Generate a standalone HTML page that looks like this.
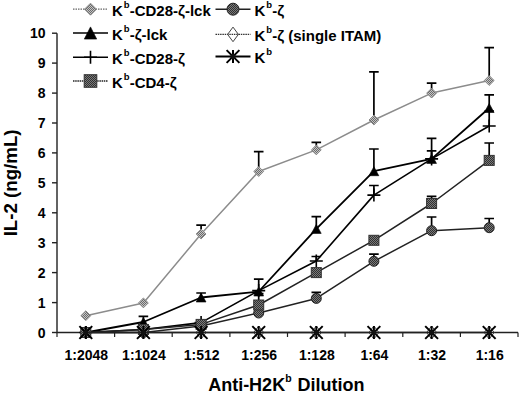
<!DOCTYPE html>
<html><head><meta charset="utf-8"><style>
html,body{margin:0;padding:0;background:#fff;}
svg{display:block;}
text{font-family:"Liberation Sans", sans-serif;fill:#000;}
</style></head><body>
<svg width="520" height="393" viewBox="0 0 520 393">

<defs>
<pattern id="pg" width="2" height="2" patternUnits="userSpaceOnUse">
<rect width="2" height="2" fill="#c4c4c4"/><rect width="1" height="1" fill="#6a6a6a"/><rect x="1" y="1" width="1" height="1" fill="#6a6a6a"/>
</pattern>
<pattern id="pd" width="2" height="2" patternUnits="userSpaceOnUse">
<rect width="2" height="2" fill="#7a7a7a"/><rect width="1" height="1" fill="#303030"/><rect x="1" y="1" width="1" height="1" fill="#303030"/>
</pattern>
</defs>

<rect width="520" height="393" fill="#fff"/>
<path d="M57.0 33.2V332.5H518.0" stroke="#222" stroke-width="1.4" fill="none"/><path d="M52 332.5H57.0" stroke="#222" stroke-width="1.4"/><text x="45.5" y="337.7" text-anchor="end" font-size="14" font-weight="bold">0</text><path d="M52 302.6H57.0" stroke="#222" stroke-width="1.4"/><text x="45.5" y="307.8" text-anchor="end" font-size="14" font-weight="bold">1</text><path d="M52 272.6H57.0" stroke="#222" stroke-width="1.4"/><text x="45.5" y="277.8" text-anchor="end" font-size="14" font-weight="bold">2</text><path d="M52 242.7H57.0" stroke="#222" stroke-width="1.4"/><text x="45.5" y="247.9" text-anchor="end" font-size="14" font-weight="bold">3</text><path d="M52 212.8H57.0" stroke="#222" stroke-width="1.4"/><text x="45.5" y="218.0" text-anchor="end" font-size="14" font-weight="bold">4</text><path d="M52 182.8H57.0" stroke="#222" stroke-width="1.4"/><text x="45.5" y="188.0" text-anchor="end" font-size="14" font-weight="bold">5</text><path d="M52 152.9H57.0" stroke="#222" stroke-width="1.4"/><text x="45.5" y="158.1" text-anchor="end" font-size="14" font-weight="bold">6</text><path d="M52 123.0H57.0" stroke="#222" stroke-width="1.4"/><text x="45.5" y="128.2" text-anchor="end" font-size="14" font-weight="bold">7</text><path d="M52 93.1H57.0" stroke="#222" stroke-width="1.4"/><text x="45.5" y="98.3" text-anchor="end" font-size="14" font-weight="bold">8</text><path d="M52 63.1H57.0" stroke="#222" stroke-width="1.4"/><text x="45.5" y="68.3" text-anchor="end" font-size="14" font-weight="bold">9</text><path d="M52 33.2H57.0" stroke="#222" stroke-width="1.4"/><text x="45.5" y="38.4" text-anchor="end" font-size="14" font-weight="bold">10</text><path d="M57.0 332.5V337.0" stroke="#222" stroke-width="1.2"/><path d="M114.6 332.5V337.0" stroke="#222" stroke-width="1.2"/><path d="M172.2 332.5V337.0" stroke="#222" stroke-width="1.2"/><path d="M229.9 332.5V337.0" stroke="#222" stroke-width="1.2"/><path d="M287.5 332.5V337.0" stroke="#222" stroke-width="1.2"/><path d="M345.1 332.5V337.0" stroke="#222" stroke-width="1.2"/><path d="M402.8 332.5V337.0" stroke="#222" stroke-width="1.2"/><path d="M460.4 332.5V337.0" stroke="#222" stroke-width="1.2"/><path d="M518.0 332.5V337.0" stroke="#222" stroke-width="1.2"/><text x="86.3" y="359.6" text-anchor="middle" font-size="14" font-weight="bold">1:2048</text><text x="143.9" y="359.6" text-anchor="middle" font-size="14" font-weight="bold">1:1024</text><text x="201.6" y="359.6" text-anchor="middle" font-size="14" font-weight="bold">1:512</text><text x="259.2" y="359.6" text-anchor="middle" font-size="14" font-weight="bold">1:256</text><text x="316.8" y="359.6" text-anchor="middle" font-size="14" font-weight="bold">1:128</text><text x="374.4" y="359.6" text-anchor="middle" font-size="14" font-weight="bold">1:64</text><text x="432.1" y="359.6" text-anchor="middle" font-size="14" font-weight="bold">1:32</text><text x="489.7" y="359.6" text-anchor="middle" font-size="14" font-weight="bold">1:16</text><text transform="translate(17.2 182.9) rotate(-90)" text-anchor="middle" font-size="18.7" font-weight="bold">IL-2 (ng/mL)</text><text x="286.3" y="391.3" text-anchor="middle" font-size="18" font-weight="bold">Anti-H2K<tspan font-size="10.5" dy="-9.8">b</tspan><tspan dx="0.9" dy="9.8"> Dilution</tspan></text>
<polyline points="85.8,315.7 143.4,302.9 201.1,234.0 258.7,171.5 316.3,149.9 373.9,120.0 431.6,93.1 489.2,80.5" fill="none" stroke="#8c8c8c" stroke-width="1.5" stroke-linejoin="round"/><path d="M201.1 234.0V225.1M196.3 225.1H205.9" stroke="#000" stroke-width="1.7" fill="none"/><path d="M258.7 171.5V151.7M253.9 151.7H263.5" stroke="#000" stroke-width="1.7" fill="none"/><path d="M316.3 149.9V142.4M311.5 142.4H321.1" stroke="#000" stroke-width="1.7" fill="none"/><path d="M373.9 120.0V71.8M369.1 71.8H378.7" stroke="#000" stroke-width="1.7" fill="none"/><path d="M431.6 93.1V83.2M426.8 83.2H436.4" stroke="#000" stroke-width="1.7" fill="none"/><path d="M489.2 80.5V47.6M484.4 47.6H494.0" stroke="#000" stroke-width="1.7" fill="none"/><path d="M85.8 310.8L90.7 315.7L85.8 320.6L80.9 315.7Z" fill="url(#pg)" stroke="#888" stroke-width="1"/><path d="M143.4 298.0L148.3 302.9L143.4 307.8L138.5 302.9Z" fill="url(#pg)" stroke="#888" stroke-width="1"/><path d="M201.1 229.1L206.0 234.0L201.1 238.9L196.2 234.0Z" fill="url(#pg)" stroke="#888" stroke-width="1"/><path d="M258.7 166.6L263.6 171.5L258.7 176.4L253.8 171.5Z" fill="url(#pg)" stroke="#888" stroke-width="1"/><path d="M316.3 145.0L321.2 149.9L316.3 154.8L311.4 149.9Z" fill="url(#pg)" stroke="#888" stroke-width="1"/><path d="M373.9 115.1L378.8 120.0L373.9 124.9L369.0 120.0Z" fill="url(#pg)" stroke="#888" stroke-width="1"/><path d="M431.6 88.2L436.5 93.1L431.6 98.0L426.7 93.1Z" fill="url(#pg)" stroke="#888" stroke-width="1"/><path d="M489.2 75.6L494.1 80.5L489.2 85.4L484.3 80.5Z" fill="url(#pg)" stroke="#888" stroke-width="1"/><polyline points="85.8,332.5 143.4,332.5 201.1,325.9 258.7,313.0 316.3,298.4 373.9,261.3 431.6,230.7 489.2,227.7" fill="none" stroke="#222" stroke-width="1.5" stroke-linejoin="round"/><path d="M316.3 298.4V292.4M311.5 292.4H321.1" stroke="#000" stroke-width="1.7" fill="none"/><path d="M373.9 261.3V254.1M369.1 254.1H378.7" stroke="#000" stroke-width="1.7" fill="none"/><path d="M431.6 230.7V217.0M426.8 217.0H436.4" stroke="#000" stroke-width="1.7" fill="none"/><path d="M489.2 227.7V218.5M484.4 218.5H494.0" stroke="#000" stroke-width="1.7" fill="none"/><circle cx="85.8" cy="332.5" r="5.0" fill="url(#pd)" stroke="#222" stroke-width="1"/><circle cx="143.4" cy="332.5" r="5.0" fill="url(#pd)" stroke="#222" stroke-width="1"/><circle cx="201.1" cy="325.9" r="5.0" fill="url(#pd)" stroke="#222" stroke-width="1"/><circle cx="258.7" cy="313.0" r="5.0" fill="url(#pd)" stroke="#222" stroke-width="1"/><circle cx="316.3" cy="298.4" r="5.0" fill="url(#pd)" stroke="#222" stroke-width="1"/><circle cx="373.9" cy="261.3" r="5.0" fill="url(#pd)" stroke="#222" stroke-width="1"/><circle cx="431.6" cy="230.7" r="5.0" fill="url(#pd)" stroke="#222" stroke-width="1"/><circle cx="489.2" cy="227.7" r="5.0" fill="url(#pd)" stroke="#222" stroke-width="1"/><polyline points="85.8,332.5 143.4,322.0 201.1,297.5 258.7,291.5 316.3,228.9 373.9,171.2 431.6,158.9 489.2,108.0" fill="none" stroke="#000" stroke-width="1.8" stroke-linejoin="round"/><path d="M143.4 322.0V316.3M138.6 316.3H148.2" stroke="#000" stroke-width="1.7" fill="none"/><path d="M201.1 297.5V293.0M196.3 293.0H205.9" stroke="#000" stroke-width="1.7" fill="none"/><path d="M258.7 291.5V279.2M253.9 279.2H263.5" stroke="#000" stroke-width="1.7" fill="none"/><path d="M316.3 228.9V216.7M311.5 216.7H321.1" stroke="#000" stroke-width="1.7" fill="none"/><path d="M373.9 171.2V149.0M369.1 149.0H378.7" stroke="#000" stroke-width="1.7" fill="none"/><path d="M431.6 158.9V138.3M426.8 138.3H436.4" stroke="#000" stroke-width="1.7" fill="none"/><path d="M489.2 108.0V94.9M484.4 94.9H494.0" stroke="#000" stroke-width="1.7" fill="none"/><path d="M85.8 328.0L90.7 337.0L80.9 337.0Z" fill="#000" stroke="#000" stroke-width="0.6" stroke-linejoin="round"/><path d="M143.4 317.5L148.3 326.5L138.5 326.5Z" fill="#000" stroke="#000" stroke-width="0.6" stroke-linejoin="round"/><path d="M201.1 293.0L206.0 302.0L196.2 302.0Z" fill="#000" stroke="#000" stroke-width="0.6" stroke-linejoin="round"/><path d="M258.7 287.0L263.6 296.0L253.8 296.0Z" fill="#000" stroke="#000" stroke-width="0.6" stroke-linejoin="round"/><path d="M316.3 224.4L321.2 233.4L311.4 233.4Z" fill="#000" stroke="#000" stroke-width="0.6" stroke-linejoin="round"/><path d="M373.9 166.7L378.8 175.7L369.0 175.7Z" fill="#000" stroke="#000" stroke-width="0.6" stroke-linejoin="round"/><path d="M431.6 154.4L436.5 163.4L426.7 163.4Z" fill="#000" stroke="#000" stroke-width="0.6" stroke-linejoin="round"/><path d="M489.2 103.5L494.1 112.5L484.3 112.5Z" fill="#000" stroke="#000" stroke-width="0.6" stroke-linejoin="round"/><polyline points="85.8,332.5 143.4,332.5 201.1,332.5 258.7,332.5 316.3,332.5 373.9,332.5 431.6,332.5 489.2,332.5" fill="none" stroke="#666" stroke-width="1.2" stroke-linejoin="round"/><path d="M85.8 326.0L90.8 332.5L85.8 339.0L80.8 332.5Z" fill="none" stroke="#444" stroke-width="1"/><path d="M143.4 326.0L148.4 332.5L143.4 339.0L138.4 332.5Z" fill="none" stroke="#444" stroke-width="1"/><path d="M201.1 326.0L206.1 332.5L201.1 339.0L196.1 332.5Z" fill="none" stroke="#444" stroke-width="1"/><path d="M258.7 326.0L263.7 332.5L258.7 339.0L253.7 332.5Z" fill="none" stroke="#444" stroke-width="1"/><path d="M316.3 326.0L321.3 332.5L316.3 339.0L311.3 332.5Z" fill="none" stroke="#444" stroke-width="1"/><path d="M373.9 326.0L378.9 332.5L373.9 339.0L368.9 332.5Z" fill="none" stroke="#444" stroke-width="1"/><path d="M431.6 326.0L436.6 332.5L431.6 339.0L426.6 332.5Z" fill="none" stroke="#444" stroke-width="1"/><path d="M489.2 326.0L494.2 332.5L489.2 339.0L484.2 332.5Z" fill="none" stroke="#444" stroke-width="1"/><polyline points="85.8,332.5 143.4,329.5 201.1,322.6 258.7,290.6 316.3,261.0 373.9,195.1 431.6,158.9 489.2,126.0" fill="none" stroke="#000" stroke-width="1.6" stroke-linejoin="round"/><path d="M316.3 261.0V256.5M311.5 256.5H321.1" stroke="#000" stroke-width="1.7" fill="none"/><path d="M373.9 195.1V185.5M369.1 185.5H378.7" stroke="#000" stroke-width="1.7" fill="none"/><path d="M431.6 158.9V150.8M426.8 150.8H436.4" stroke="#000" stroke-width="1.7" fill="none"/><path d="M489.2 126.0V111.0M484.4 111.0H494.0" stroke="#000" stroke-width="1.7" fill="none"/><path d="M79.3 332.5H92.3M85.8 326.0V339.0" stroke="#000" stroke-width="1.6" fill="none"/><path d="M136.9 329.5H149.9M143.4 323.0V336.0" stroke="#000" stroke-width="1.6" fill="none"/><path d="M194.6 322.6H207.6M201.1 316.1V329.1" stroke="#000" stroke-width="1.6" fill="none"/><path d="M252.2 290.6H265.2M258.7 284.1V297.1" stroke="#000" stroke-width="1.6" fill="none"/><path d="M309.8 261.0H322.8M316.3 254.5V267.5" stroke="#000" stroke-width="1.6" fill="none"/><path d="M367.4 195.1H380.4M373.9 188.6V201.6" stroke="#000" stroke-width="1.6" fill="none"/><path d="M425.1 158.9H438.1M431.6 152.4V165.4" stroke="#000" stroke-width="1.6" fill="none"/><path d="M482.7 126.0H495.7M489.2 119.5V132.5" stroke="#000" stroke-width="1.6" fill="none"/><polyline points="85.8,332.5 143.4,329.5 201.1,324.4 258.7,305.0 316.3,272.6 373.9,240.3 431.6,203.5 489.2,160.4" fill="none" stroke="#222" stroke-width="1.5" stroke-linejoin="round"/><path d="M258.7 305.0V293.6M253.9 293.6H263.5" stroke="#000" stroke-width="1.7" fill="none"/><path d="M431.6 203.5V196.3M426.8 196.3H436.4" stroke="#000" stroke-width="1.7" fill="none"/><path d="M489.2 160.4V143.0M484.4 143.0H494.0" stroke="#000" stroke-width="1.7" fill="none"/><rect x="80.8" y="327.5" width="10.0" height="10.0" fill="url(#pd)" stroke="#333" stroke-width="1"/><rect x="138.4" y="324.5" width="10.0" height="10.0" fill="url(#pd)" stroke="#333" stroke-width="1"/><rect x="196.1" y="319.4" width="10.0" height="10.0" fill="url(#pd)" stroke="#333" stroke-width="1"/><rect x="253.7" y="300.0" width="10.0" height="10.0" fill="url(#pd)" stroke="#333" stroke-width="1"/><rect x="311.3" y="267.6" width="10.0" height="10.0" fill="url(#pd)" stroke="#333" stroke-width="1"/><rect x="368.9" y="235.3" width="10.0" height="10.0" fill="url(#pd)" stroke="#333" stroke-width="1"/><rect x="426.6" y="198.5" width="10.0" height="10.0" fill="url(#pd)" stroke="#333" stroke-width="1"/><rect x="484.2" y="155.4" width="10.0" height="10.0" fill="url(#pd)" stroke="#333" stroke-width="1"/><polyline points="85.8,332.5 143.4,332.5 201.1,332.5 258.7,332.5 316.3,332.5 373.9,332.5 431.6,332.5 489.2,332.5" fill="none" stroke="#222" stroke-width="1.6" stroke-linejoin="round"/><path d="M79.4 326.1L92.2 338.9M92.2 326.1L79.4 338.9M85.8 326.1V338.9" stroke="#000" stroke-width="2" fill="none"/><circle cx="85.8" cy="332.5" r="2.6" fill="#111"/><path d="M137.0 326.1L149.8 338.9M149.8 326.1L137.0 338.9M143.4 326.1V338.9" stroke="#000" stroke-width="2" fill="none"/><circle cx="143.4" cy="332.5" r="2.6" fill="#111"/><path d="M194.7 326.1L207.5 338.9M207.5 326.1L194.7 338.9M201.1 326.1V338.9" stroke="#000" stroke-width="2" fill="none"/><circle cx="201.1" cy="332.5" r="2.6" fill="#111"/><path d="M252.3 326.1L265.1 338.9M265.1 326.1L252.3 338.9M258.7 326.1V338.9" stroke="#000" stroke-width="2" fill="none"/><circle cx="258.7" cy="332.5" r="2.6" fill="#111"/><path d="M309.9 326.1L322.7 338.9M322.7 326.1L309.9 338.9M316.3 326.1V338.9" stroke="#000" stroke-width="2" fill="none"/><circle cx="316.3" cy="332.5" r="2.6" fill="#111"/><path d="M367.5 326.1L380.3 338.9M380.3 326.1L367.5 338.9M373.9 326.1V338.9" stroke="#000" stroke-width="2" fill="none"/><circle cx="373.9" cy="332.5" r="2.6" fill="#111"/><path d="M425.2 326.1L438.0 338.9M438.0 326.1L425.2 338.9M431.6 326.1V338.9" stroke="#000" stroke-width="2" fill="none"/><circle cx="431.6" cy="332.5" r="2.6" fill="#111"/><path d="M482.8 326.1L495.6 338.9M495.6 326.1L482.8 338.9M489.2 326.1V338.9" stroke="#000" stroke-width="2" fill="none"/><circle cx="489.2" cy="332.5" r="2.6" fill="#111"/>
<path d="M73 9.2H108" stroke="#666" stroke-width="1.2" stroke-dasharray="1.5 1"/><path d="M90.5 3.2L96.5 9.2L90.5 15.2L84.5 9.2Z" fill="url(#pg)" stroke="#888" stroke-width="1"/><text x="112" y="15.7" font-size="15" font-weight="bold">K<tspan font-size="9.5" dx="1" dy="-7.8">b</tspan><tspan dy="7.8">-CD28-ζ-lck</tspan></text><path d="M73 33.0H108" stroke="#000" stroke-width="1.5"/><path d="M90.5 26.9L96.7 39.1L84.3 39.1Z" fill="#000" stroke="#000" stroke-width="0.6" stroke-linejoin="round"/><text x="112" y="39.5" font-size="15" font-weight="bold">K<tspan font-size="9.5" dx="1" dy="-7.8">b</tspan><tspan dy="7.8">-ζ-lck</tspan></text><path d="M73 57.2H108" stroke="#000" stroke-width="1.6"/><path d="M84.0 57.2H97.0M90.5 50.7V63.7" stroke="#000" stroke-width="1.6" fill="none"/><text x="112" y="63.7" font-size="15" font-weight="bold">K<tspan font-size="9.5" dx="1" dy="-7.8">b</tspan><tspan dy="7.8">-CD28-ζ</tspan></text><path d="M73 81.0H108" stroke="#222" stroke-width="1.3" stroke-dasharray="1.5 0.7"/><rect x="84.2" y="74.7" width="12.6" height="12.6" fill="url(#pd)" stroke="#333" stroke-width="1"/><text x="112" y="87.5" font-size="15" font-weight="bold">K<tspan font-size="9.5" dx="1" dy="-7.8">b</tspan><tspan dy="7.8">-CD4-ζ</tspan></text><path d="M215.5 9.2H250.5" stroke="#222" stroke-width="1.4"/><circle cx="233.0" cy="9.2" r="6.0" fill="url(#pd)" stroke="#222" stroke-width="1"/><text x="254.5" y="15.7" font-size="15" font-weight="bold">K<tspan font-size="9.5" dx="1" dy="-7.8">b</tspan><tspan dy="7.8">-ζ</tspan></text><path d="M215.5 34.4H250.5" stroke="#333" stroke-width="1.2" stroke-dasharray="1.5 0.8"/><path d="M233.0 27.1L238.4 34.4L233.0 41.7L227.6 34.4Z" fill="none" stroke="#444" stroke-width="1"/><text x="254.5" y="40.9" font-size="15" font-weight="bold">K<tspan font-size="9.5" dx="1" dy="-7.8">b</tspan><tspan dy="7.8">-ζ (single ITAM)</tspan></text><path d="M215.5 56.5H250.5" stroke="#000" stroke-width="1.8"/><path d="M226.6 50.1L239.4 62.9M239.4 50.1L226.6 62.9M233.0 50.1V62.9" stroke="#000" stroke-width="2" fill="none"/><circle cx="233.0" cy="56.5" r="2.6" fill="#111"/><text x="254.5" y="63.0" font-size="15" font-weight="bold">K<tspan font-size="9.5" dx="1" dy="-7.8">b</tspan><tspan dy="7.8"></tspan></text>
</svg>
</body></html>
